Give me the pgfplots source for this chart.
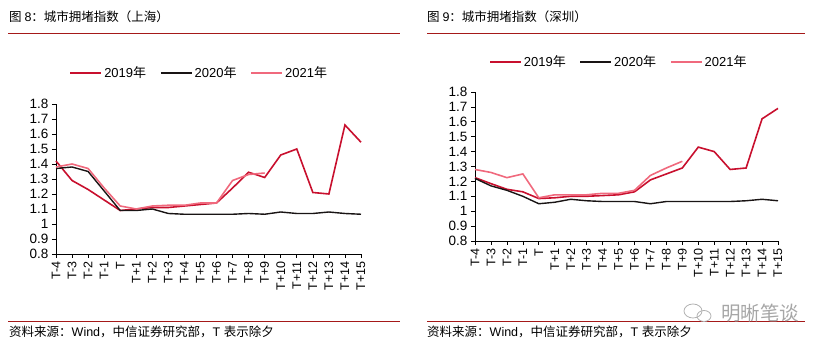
\documentclass[border=0pt]{standalone}
\usepackage{fontspec}
\setmainfont{Liberation Sans}
\newfontfamily\cjk{Noto Sans CJK SC}
\usepackage{pgfplots}
\pgfplotsset{compat=1.18}
\definecolor{c19}{RGB}{200,16,46}
\definecolor{c20}{RGB}{25,20,20}
\definecolor{c21}{RGB}{240,105,125}
\definecolor{rulec}{RGB}{165,25,25}
\pgfplotsset{
  mystyle/.style={
    scale only axis,
    xmin=0, xmax=19, ymin=0.8, ymax=1.8,
    ytick={0.8,0.9,1,1.1,1.2,1.3,1.4,1.5,1.6,1.7,1.8},
    xtick={0,...,19},
    xticklabels={T-4,T-3,T-2,T-1,T,T+1,T+2,T+3,T+4,T+5,T+6,T+7,T+8,T+9,T+10,T+11,T+12,T+13,T+14,T+15},
    x tick label style={rotate=90, anchor=east, font=\fontsize{12.5}{12.5}\selectfont},
    y tick label style={font=\fontsize{13.5}{13.5}\selectfont},
    /pgf/number format/assume math mode=true,
    axis x line*=bottom, axis y line*=left,
    tick align=outside, major tick length=4pt,
    tick style={black, line width=0.6pt},
    axis line style={black, line width=0.6pt},
    legend columns=3,
    legend style={draw=none, fill=none, font=\fontsize{13}{13}\selectfont,
      /tikz/every even column/.append style={column sep=12pt}},
    legend image code/.code={\draw[#1] (0pt,0pt) -- (31pt,0pt);},
    clip=false,
  }
}
\begin{document}
\begin{tikzpicture}
\useasboundingbox (0,0) rectangle (827pt,352pt);
% titles and rules
\node[anchor=west, inner sep=0pt, font=\fontsize{12.5}{12.5}\selectfont] at (9pt,335pt) {{\cjk 图 }8{\cjk ：城市拥堵指数（上海）}};
\node[anchor=west, inner sep=0pt, font=\fontsize{12.5}{12.5}\selectfont] at (427pt,335pt) {{\cjk 图 }9{\cjk ：城市拥堵指数（深圳）}};
\draw[rulec, line width=0.8pt] (8pt,319pt) -- (400pt,319pt);
\draw[rulec, line width=0.8pt] (427pt,319pt) -- (805pt,319pt);
\draw[rulec, line width=0.8pt] (8pt,31pt) -- (400pt,31pt);
\draw[rulec, line width=0.8pt] (427pt,31pt) -- (805pt,31pt);
\node[anchor=west, inner sep=0pt, font=\fontsize{12.5}{12.5}\selectfont] at (9pt,20pt) {{\cjk 资料来源：}Wind{\cjk ，中信证券研究部，}T {\cjk 表示除夕}};
\node[anchor=west, inner sep=0pt, font=\fontsize{12.5}{12.5}\selectfont] at (427pt,20pt) {{\cjk 资料来源：}Wind{\cjk ，中信证券研究部，}T {\cjk 表示除夕}};
\node[anchor=west, inner sep=0pt, text=black!35, font=\cjk\fontsize{19.5}{19.5}\selectfont] at (721pt,39pt) {明晰笔谈};
\draw[black!30, line width=0.8pt] (693pt,41pt) ellipse (9pt and 7pt);
\draw[black!30, line width=0.8pt] (704pt,36pt) ellipse (7pt and 5.5pt);

% left axis
\begin{axis}[mystyle, at={(56pt,98pt)}, anchor=south west, width=305pt, height=150pt,
  legend style={at={(0.47,1.207)}, anchor=center}]
\addplot[c19, line width=1.6pt, no marks] coordinates {
(0,1.42)(1,1.29)(2,1.23)(3,1.16)(4,1.09)(5,1.10)(6,1.11)(7,1.11)(8,1.12)(9,1.13)
(10,1.14)(11,1.24)(12,1.345)(13,1.31)(14,1.46)(15,1.50)(16,1.21)(17,1.20)(18,1.66)(19,1.545)};
\addlegendentry{2019{\cjk 年}}
\addplot[c20, line width=1.4pt, no marks] coordinates {
(0,1.37)(1,1.38)(2,1.35)(3,1.22)(4,1.09)(5,1.09)(6,1.10)(7,1.07)(8,1.065)(9,1.065)
(10,1.065)(11,1.065)(12,1.07)(13,1.065)(14,1.08)(15,1.07)(16,1.07)(17,1.08)(18,1.07)(19,1.065)};
\addlegendentry{2020{\cjk 年}}
\addplot[c21, line width=1.6pt, no marks] coordinates {
(0,1.38)(1,1.40)(2,1.37)(3,1.24)(4,1.12)(5,1.10)(6,1.12)(7,1.125)(8,1.125)(9,1.14)
(10,1.14)(11,1.29)(12,1.33)(13,1.34)};
\addlegendentry{2021{\cjk 年}}
\end{axis}

% right axis
\begin{axis}[mystyle, at={(475pt,111pt)}, anchor=south west, width=303pt, height=149pt,
  legend style={at={(0.475,1.2)}, anchor=center}]
\addplot[c19, line width=1.6pt, no marks] coordinates {
(0,1.225)(1,1.185)(2,1.147)(3,1.13)(4,1.085)(5,1.09)(6,1.10)(7,1.10)(8,1.105)(9,1.11)
(10,1.13)(11,1.21)(12,1.25)(13,1.29)(14,1.43)(15,1.40)(16,1.28)(17,1.29)(18,1.62)(19,1.69)};
\addlegendentry{2019{\cjk 年}}
\addplot[c20, line width=1.4pt, no marks] coordinates {
(0,1.22)(1,1.17)(2,1.14)(3,1.10)(4,1.05)(5,1.06)(6,1.08)(7,1.07)(8,1.065)(9,1.065)
(10,1.065)(11,1.05)(12,1.065)(13,1.065)(14,1.065)(15,1.065)(16,1.065)(17,1.07)(18,1.08)(19,1.07)};
\addlegendentry{2020{\cjk 年}}
\addplot[c21, line width=1.6pt, no marks] coordinates {
(0,1.28)(1,1.26)(2,1.225)(3,1.25)(4,1.09)(5,1.11)(6,1.11)(7,1.11)(8,1.12)(9,1.12)
(10,1.14)(11,1.24)(12,1.29)(13,1.335)};
\addlegendentry{2021{\cjk 年}}
\end{axis}
\end{tikzpicture}
\end{document}
